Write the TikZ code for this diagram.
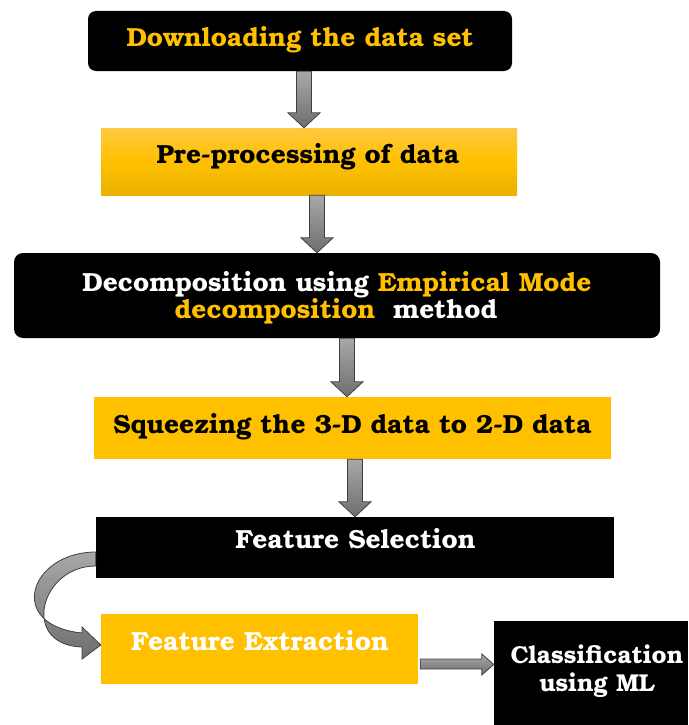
\documentclass[tikz,border=0pt]{standalone}
\usepackage{fontspec}
\setmainfont{texgyrebonum}[Extension=.otf, UprightFont=*-regular, BoldFont=*-bold, ItalicFont=*-italic, BoldItalicFont=*-bolditalic]
\usetikzlibrary{calc}
\definecolor{gold}{HTML}{FFC000}
\definecolor{goldtop}{HTML}{FFC940}
\definecolor{goldbot}{HTML}{E9B200}
\definecolor{arrowedge}{HTML}{404040}
\definecolor{arrowtop}{HTML}{A8A8A8}
\definecolor{arrowbot}{HTML}{6E6E6E}
\tikzset{
  boxbase/.style={rectangle, inner sep=0pt, draw=none},
  blackbox/.style={boxbase, fill=black},
  goldbox/.style={boxbase, fill=gold},
  txt/.style={anchor=base, inner sep=0pt, font=\bfseries\fontsize{26.2}{30}\selectfont},
  smalltxt/.style={txt, font=\bfseries\fontsize{24.4}{28}\selectfont},
  blk/.style={draw=arrowedge, line width=0.8pt, top color=arrowtop, bottom color=arrowbot, line join=miter},
}
\newcommand\varrow[3]{%
  \draw[blk] let \p1=(#2.south), \p2=(#3.north) in
    (#1pt-7.5pt,\y1) -- (#1pt+7.5pt,\y1) -- (#1pt+7.5pt,\y2+15pt) -- (#1pt+16pt,\y2+15pt)
    -- (#1pt,\y2) -- (#1pt-16pt,\y2+15pt) -- (#1pt-7.5pt,\y2+15pt) -- cycle;}
\begin{document}
\begin{tikzpicture}[x=1pt,y=-1pt]
\useasboundingbox (0,0) rectangle (688,725);
% boxes
\node[blackbox, rounded corners=8pt, minimum width=424pt, minimum height=60pt] (b1) at (300,41) {};
\node[boxbase, top color=goldtop, bottom color=goldbot, middle color=gold, minimum width=416pt, minimum height=67pt] (b2) at (309,161.5) {};
\node[blackbox, rounded corners=9pt, minimum width=646pt, minimum height=85pt] (b3) at (337,295.5) {};
\node[goldbox, minimum width=517pt, minimum height=62pt] (b4) at (352.5,428) {};
\node[blackbox, minimum width=518pt, minimum height=61pt] (b5) at (355,547.5) {};
\node[goldbox, minimum width=317pt, minimum height=70pt] (b6) at (259.5,649) {};
\node[blackbox, minimum width=194pt, minimum height=104pt] (b7) at (591,673) {};
% texts
\node[txt, text=gold] (t1) at (300,46.5) {Downloading the data set};
\node[txt, text=black] (t2) at (308,163.5) {Pre-processing of data};
\node[txt, text=white] (t3a) at (337,291.5) {Decomposition using \textcolor{gold}{Empirical Mode}};
\node[txt, text=white] (t3b) at (336,318.5) {\textcolor{gold}{decomposition}\ \ method};
\node[txt, text=black] (t4) at (352.5,433.5) {Squeezing the 3-D data to 2-D data};
\node[txt, text=white] (t5) at (355.5,548.5) {Feature Selection};
\node[txt, text=white] (t6) at (260,650.5) {Feature Extraction};
\node[smalltxt, text=white] (t7a) at (597,663) {Classification};
\node[smalltxt, text=white] (t7b) at (597,691) {using ML};
% straight arrows
\varrow{304}{b1}{b2}
\varrow{317}{b2}{b3}
\varrow{347}{b3}{b4}
\varrow{355}{b4}{b5}
% horizontal arrow
\draw[blk] let \p1=(b6.east), \p2=(b7.west) in
  (\x1+2pt,-659pt) -- (\x2-12pt,-659pt) -- (\x2-12pt,-654pt) -- (\x2,-664.5pt)
  -- (\x2-12pt,-675pt) -- (\x2-12pt,-669pt) -- (\x1+2pt,-669pt) -- cycle;
% curved arrow
\draw[blk] (b5.west |- 0,552) .. controls (30,552) and (5,625) .. (82,633)
  -- (82,627) -- (b6.west |- 0,645) -- (82,659) -- (82,647)
  .. controls (20,645) and (40,566) .. (b5.west |- 0,566) -- cycle;
\end{tikzpicture}
\end{document}
